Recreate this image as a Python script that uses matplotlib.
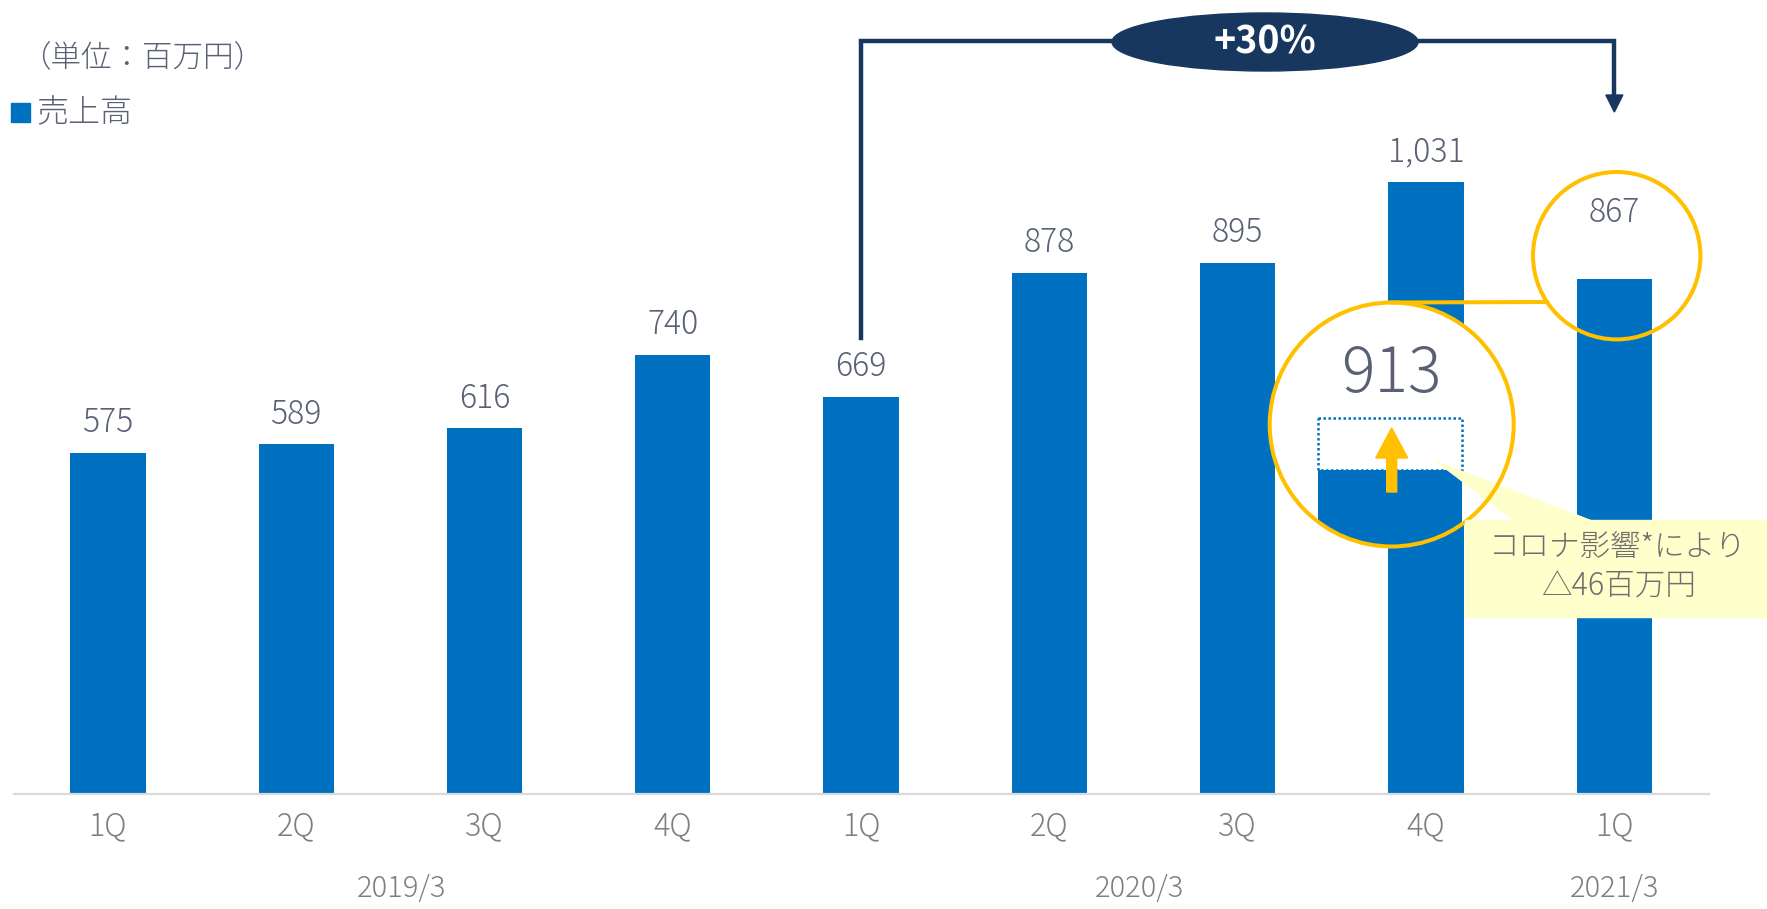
import matplotlib
matplotlib.use("Agg")
import matplotlib.pyplot as plt
from matplotlib.patches import Ellipse, Rectangle, Polygon, Circle

plt.rcParams['font.family'] = ['Noto Sans CJK JP', 'DejaVu Sans']
plt.rcParams['font.weight'] = 'light'

# data
quarters = ['1Q', '2Q', '3Q', '4Q', '1Q', '2Q', '3Q', '4Q', '1Q']
sales = [575, 589, 616, 740, 669, 878, 895, 1031, 867]
fiscal_years = ['2019/3', '2020/3', '2021/3']
year_pos = [1.56, 5.48, 8.0]
forecast_q1 = 913        # 1Q without the corona impact
covid_impact = 46        # 百万円

BLUE = '#0070C0'
NAVY = '#17375E'
GOLD = '#FFC000'
LABEL = '#5A6175'
TICK = '#7F7F7F'

W, H, DPI = 1767, 909, 100
fig = plt.figure(figsize=(W / DPI, H / DPI), dpi=DPI)

# main axes (pixel placement of the plot area)
ax_l, ax_r, ax_b = 13.75, 1708.5, 794
YS = 0.5935   # px per unit
ax = fig.add_axes([ax_l / W, (H - ax_b) / H, (ax_r - ax_l) / W, ax_b / H])
ax.set_xlim(-0.5, len(sales) - 0.5)
ax.set_ylim(0, ax_b / YS)

x = range(len(sales))
ax.bar(x, sales, width=0.4, color=BLUE, zorder=2)

for s in ['top', 'right', 'left']:
    ax.spines[s].set_visible(False)
ax.spines['bottom'].set_color('#D9D9D9')
ax.spines['bottom'].set_linewidth(1.6)
ax.set_yticks([])
ax.set_xticks(list(x), quarters, fontsize=22, color=TICK)
ax.tick_params(axis='x', length=0, pad=12)

for xi, name in zip(year_pos, fiscal_years):
    ax.text(xi, -160, name, ha='center', va='center', fontsize=21,
            color=TICK, clip_on=False)

# value labels
for i, v in enumerate(sales[:-1]):
    ax.text(i, v + 35, f'{v:,}', ha='center', va='baseline', fontsize=23, color=LABEL)
ax.text(len(sales) - 1, (ax_b - 213) / YS, f'{sales[-1]:,}', ha='center', va='center',
        fontsize=23, color=LABEL, zorder=6)

# +30% bracket from 1Q 2020/3 to 1Q 2021/3
i0, i1 = 4, 8
y_top = (ax_b - 41) / YS
y_bot = (ax_b - 338) / YS
y_tip = (ax_b - 112) / YS
y_head = (ax_b - 95) / YS
ax.plot([i0, i0, i1, i1], [y_bot, y_top, y_top, y_head], color=NAVY, lw=3.2,
        solid_joinstyle='miter', clip_on=False, zorder=4)
hw = 8.5 / 188.3
ax.add_patch(Polygon([[i1 - hw, y_head], [i1 + hw, y_head], [i1, y_tip]],
                     closed=True, color=NAVY, clip_on=False, zorder=4))
growth = round((sales[i1] / sales[i0] - 1) * 100)
ax.add_patch(Ellipse((6.145, (ax_b - 42) / YS), 306 / 188.3, 58 / YS,
                     color=NAVY, clip_on=False, zorder=5))
ax.text(6.145, (ax_b - 42) / YS, f'+{growth}%', ha='center', va='center',
        fontsize=27, fontweight='bold', color='white', zorder=6, clip_on=False)

# overlay in pixel coordinates for the magnifier call-out
ov = fig.add_axes([0, 0, 1, 1])
ov.set_xlim(0, W)
ov.set_ylim(H, 0)
ov.axis('off')

cx, cy, r = 1391.7, 424.5, 122
big = Circle((cx, cy), r, facecolor='white', edgecolor='none', zorder=3)
ov.add_patch(big)

mag = 1.9
bx0, bx1 = 1317.7, 1461.7
top_actual = 470
top_fc = top_actual - (forecast_q1 - sales[-1]) * YS * mag
inset_bar = Rectangle((bx0, top_actual), bx1 - bx0, 200, facecolor=BLUE,
                      edgecolor='none', zorder=4)
ov.add_patch(inset_bar)
inset_bar.set_clip_path(big)
ov.add_patch(Rectangle((bx0, top_fc), bx1 - bx0, top_actual - top_fc, fill=False,
                       edgecolor=BLUE, lw=1.8, linestyle=(0, (1, 1)), zorder=5))
ov.text(cx, 375, f'{forecast_q1}', ha='center', va='center', fontsize=45,
        color=LABEL, zorder=6)

# gold up arrow
sw, ahw, ahl = 5, 16, 30
ay0, ay1 = 492, 428
ov.add_patch(Polygon([[cx - sw, ay0], [cx - sw, ay1 + ahl], [cx - ahw, ay1 + ahl],
                      [cx, ay1], [cx + ahw, ay1 + ahl], [cx + sw, ay1 + ahl],
                      [cx + sw, ay0]], closed=True, color=GOLD, zorder=6))

# call-out box
ov.add_patch(Polygon([[1515, 521], [1592, 521], [1436.7, 461.7]], closed=True,
                     color='#FFFFCC', zorder=6))
ov.add_patch(Rectangle((1465, 520), W - 1465, 97, color='#FFFFCC', zorder=8))
ov.text(1618, 546.7, 'コロナ影響*により', ha='center', va='center', fontsize=22,
        color='#6E6E6E', zorder=9)
ov.text(1618, 586.7, f'△{covid_impact}百万円', ha='center', va='center', fontsize=22,
        color='#6E6E6E', zorder=9)

# gold outlines
ov.add_patch(Circle((cx, cy), r, fill=False, edgecolor=GOLD, lw=2.9, zorder=7))
ov.add_patch(Circle((1616.7, 255.7), 83.7, fill=False, edgecolor=GOLD, lw=2.9, zorder=7))
ov.plot([cx, 1547], [cy - r, 302], color=GOLD, lw=2.9, zorder=7)

# legend / unit
fig.text(20 / W, 1 - 57 / H, '（単位：百万円）', fontsize=22, color=LABEL,
         ha='left', va='center')
fig.patches.append(Rectangle((11 / W, 1 - 122 / H), 19 / W, 19 / H, color=BLUE,
                             transform=fig.transFigure, figure=fig))
fig.text(36 / W, 1 - 113 / H, '売上高', fontsize=23, color=LABEL, ha='left', va='center')

fig.savefig('out.png', dpi=DPI)
